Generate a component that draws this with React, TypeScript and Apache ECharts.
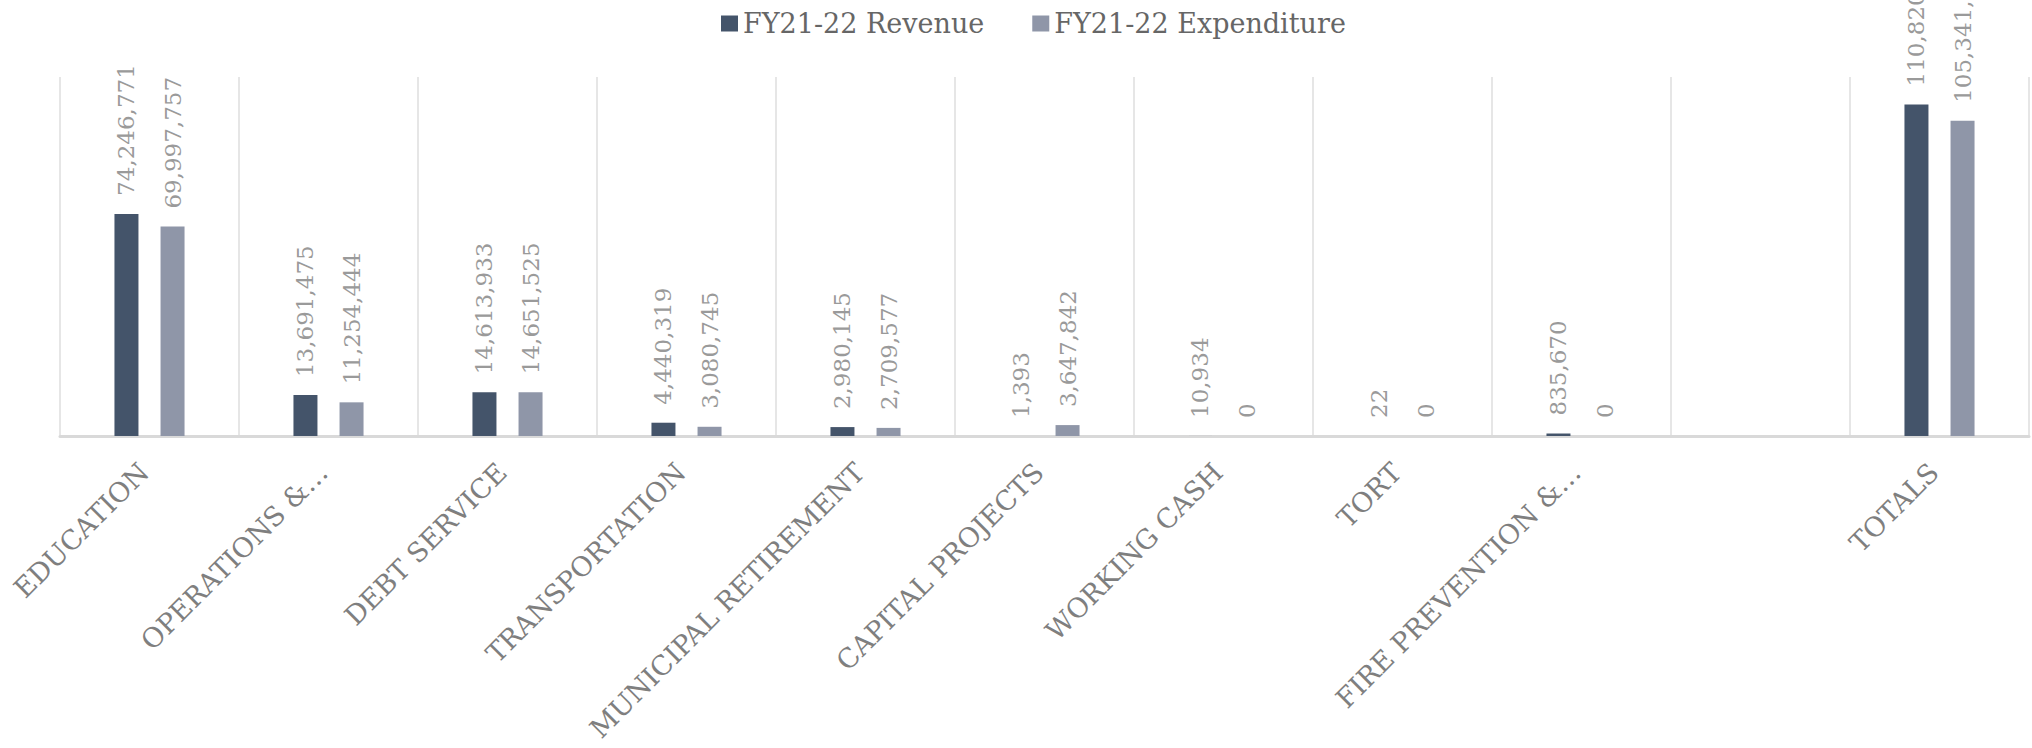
import React, { useEffect, useRef } from "react";
import * as echarts from "echarts";

const categories = [
  "EDUCATION",
  "OPERATIONS &…",
  "DEBT SERVICE",
  "TRANSPORTATION",
  "MUNICIPAL RETIREMENT",
  "CAPITAL PROJECTS",
  "WORKING CASH",
  "TORT",
  "FIRE PREVENTION &…",
  "",
  "TOTALS",
];

const revenue: (number | null)[] = [
  74246771, 13691475, 14613933, 4440319, 2980145, 1393, 10934, 22, 835670, null, 110820662,
];

const expenditure: (number | null)[] = [
  69997757, 11254444, 14651525, 3080745, 2709577, 3647842, 0, 0, 0, null, 105341890,
];

const seriesNames = ["FY21-22 Revenue", "FY21-22 Expenditure"];
const colors = ["#44546a", "#8f96a8"];

const FONT = "DejaVu Serif";

export default function App() {
  const ref = useRef<HTMLDivElement>(null);

  useEffect(() => {
    document.body.style.margin = "0";
    if (!ref.current) return;
    const chart = echarts.init(ref.current, null, { renderer: "svg" });
    const fmt = (p: any) =>
      p.value === null || p.value === undefined ? "" : Number(p.value).toLocaleString("en-US");
    const label = {
      show: true,
      position: "top",
      rotate: 90,
      align: "left",
      verticalAlign: "middle",
      distance: 18,
      color: "#9a9a9a",
      fontFamily: FONT,
      fontSize: 23,
      formatter: fmt,
    };
    chart.setOption({
      animation: false,
      color: colors,
      textStyle: { fontFamily: FONT },
      legend: {
        top: 5,
        left: 716,
        itemWidth: 17,
        itemHeight: 16,
        itemGap: 48,
        icon: "rect",
        textStyle: { fontFamily: FONT, fontSize: 27, color: "#666666" },
        data: seriesNames,
      },
      grid: {
        left: 60,
        right: 3,
        top: 77,
        bottom: 312,
        containLabel: false,
        outerBoundsMode: "none",
      },
      xAxis: {
        type: "category",
        data: categories,
        boundaryGap: true,
        axisLine: { show: true, lineStyle: { color: "#d9d9d9", width: 3 } },
        axisTick: { show: false },
        splitLine: { show: true, lineStyle: { color: "#dedede", width: 1.5 } },
        axisLabel: {
          interval: 0,
          rotate: 45,
          margin: 26,
          padding: [0, 8, 0, 0],
          color: "#7f7f7f",
          fontFamily: FONT,
          fontSize: 27,
        },
      },
      yAxis: {
        type: "value",
        min: 0,
        max: 120000000,
        show: false,
        splitLine: { show: false },
      },
      series: [
        {
          name: seriesNames[0],
          type: "bar",
          data: revenue,
          barWidth: 24,
          barGap: "92%",
          itemStyle: { color: colors[0] },
          label,
        },
        {
          name: seriesNames[1],
          type: "bar",
          data: expenditure,
          barWidth: 24,
          itemStyle: { color: colors[1] },
          label,
        },
      ],
    });
    return () => chart.dispose();
  }, []);

  return <div ref={ref} style={{ width: 2032, height: 748 }} />;
}
